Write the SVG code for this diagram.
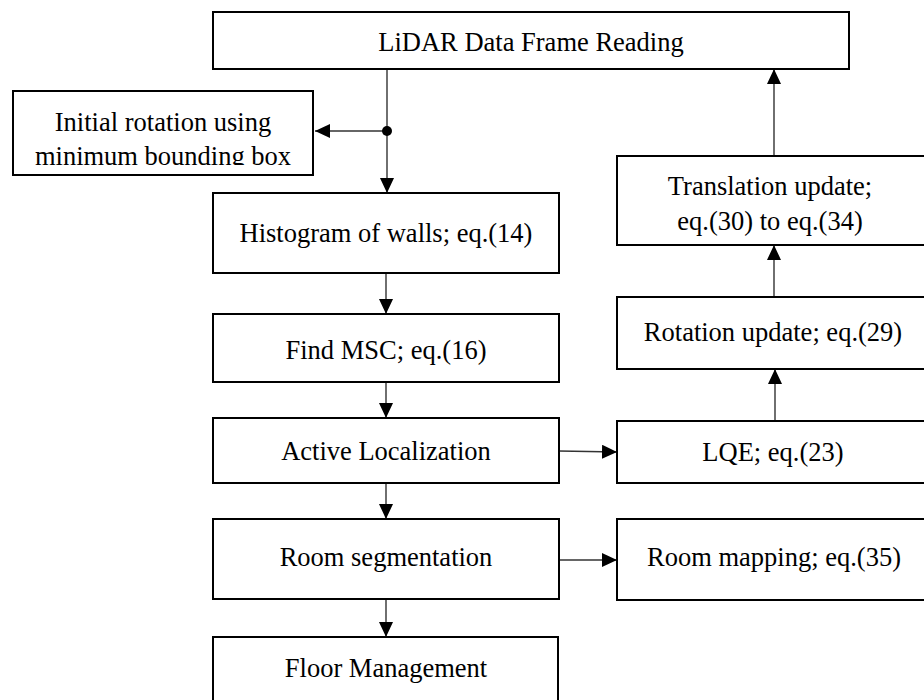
<svg xmlns="http://www.w3.org/2000/svg" width="924" height="700" viewBox="0 0 924 700">
<style>
.box{fill:#fff;stroke:#000;stroke-width:2}
.t{font-family:"Liberation Serif","Times New Roman",serif;font-size:26.5px;fill:#000;text-anchor:middle}
.c{fill:none;stroke:#333;stroke-width:1.4}
</style>
<defs>
<marker id="ah" markerUnits="userSpaceOnUse" markerWidth="15" markerHeight="14" refX="15" refY="7" orient="auto">
<path d="M0,0 L15,7 L0,14 z" fill="#000"/>
</marker>
<clipPath id="clipInit"><rect x="0" y="80" width="330" height="85"/></clipPath>
</defs>
<rect width="924" height="700" fill="#fff"/>
<g id="connectors">
<line class="c" x1="387" y1="69" x2="387" y2="193" marker-end="url(#ah)"/>
<line class="c" x1="387" y1="131" x2="315" y2="131" marker-end="url(#ah)"/>
<circle cx="387" cy="131" r="5" fill="#000"/>
<line class="c" x1="386" y1="273" x2="386" y2="314" marker-end="url(#ah)"/>
<line class="c" x1="386" y1="382" x2="386" y2="418" marker-end="url(#ah)"/>
<line class="c" x1="386" y1="483" x2="386" y2="519" marker-end="url(#ah)"/>
<line class="c" x1="386" y1="599" x2="386" y2="637" marker-end="url(#ah)"/>
<line class="c" x1="559" y1="451" x2="617" y2="452" marker-end="url(#ah)"/>
<line class="c" x1="559" y1="560" x2="617" y2="560" marker-end="url(#ah)"/>
<line class="c" x1="775" y1="421" x2="775" y2="369" marker-end="url(#ah)"/>
<line class="c" x1="774" y1="297" x2="774" y2="245" marker-end="url(#ah)"/>
<line class="c" x1="774" y1="156" x2="774" y2="69" marker-end="url(#ah)"/>
</g>
<g id="lidar">
<rect class="box" x="213" y="12" width="636" height="57"/>
<text class="t" x="531" y="51">LiDAR Data Frame Reading</text>
</g>
<g id="initial-rotation">
<rect class="box" x="13" y="91" width="300" height="84"/>
<g clip-path="url(#clipInit)">
<text class="t" x="163" y="131">Initial rotation using</text>
<text class="t" x="163" y="165">minimum bounding box</text>
</g>
</g>
<g id="histogram">
<rect class="box" x="213" y="193" width="346" height="80"/>
<text class="t" x="386" y="242">Histogram of walls; eq.(14)</text>
</g>
<g id="find-msc">
<rect class="box" x="213" y="314" width="346" height="68"/>
<text class="t" x="386" y="359">Find MSC; eq.(16)</text>
</g>
<g id="active-localization">
<rect class="box" x="213" y="418" width="346" height="65"/>
<text class="t" x="386" y="460">Active Localization</text>
</g>
<g id="room-segmentation">
<rect class="box" x="213" y="519" width="346" height="80"/>
<text class="t" x="386" y="566">Room segmentation</text>
</g>
<g id="floor-management">
<rect class="box" x="213" y="637" width="345" height="70"/>
<text class="t" x="386" y="677">Floor Management</text>
</g>
<g id="translation-update">
<rect class="box" x="617" y="156" width="310" height="89"/>
<text class="t" x="770" y="195">Translation update;</text>
<text class="t" x="770" y="230">eq.(30) to eq.(34)</text>
</g>
<g id="rotation-update">
<rect class="box" x="617" y="297" width="310" height="72"/>
<text class="t" x="773" y="341">Rotation update; eq.(29)</text>
</g>
<g id="lqe">
<rect class="box" x="617" y="421" width="310" height="62"/>
<text class="t" x="773" y="461">LQE; eq.(23)</text>
</g>
<g id="room-mapping">
<rect class="box" x="617" y="519" width="310" height="81"/>
<text class="t" x="774" y="566">Room mapping; eq.(35)</text>
</g>
</svg>
